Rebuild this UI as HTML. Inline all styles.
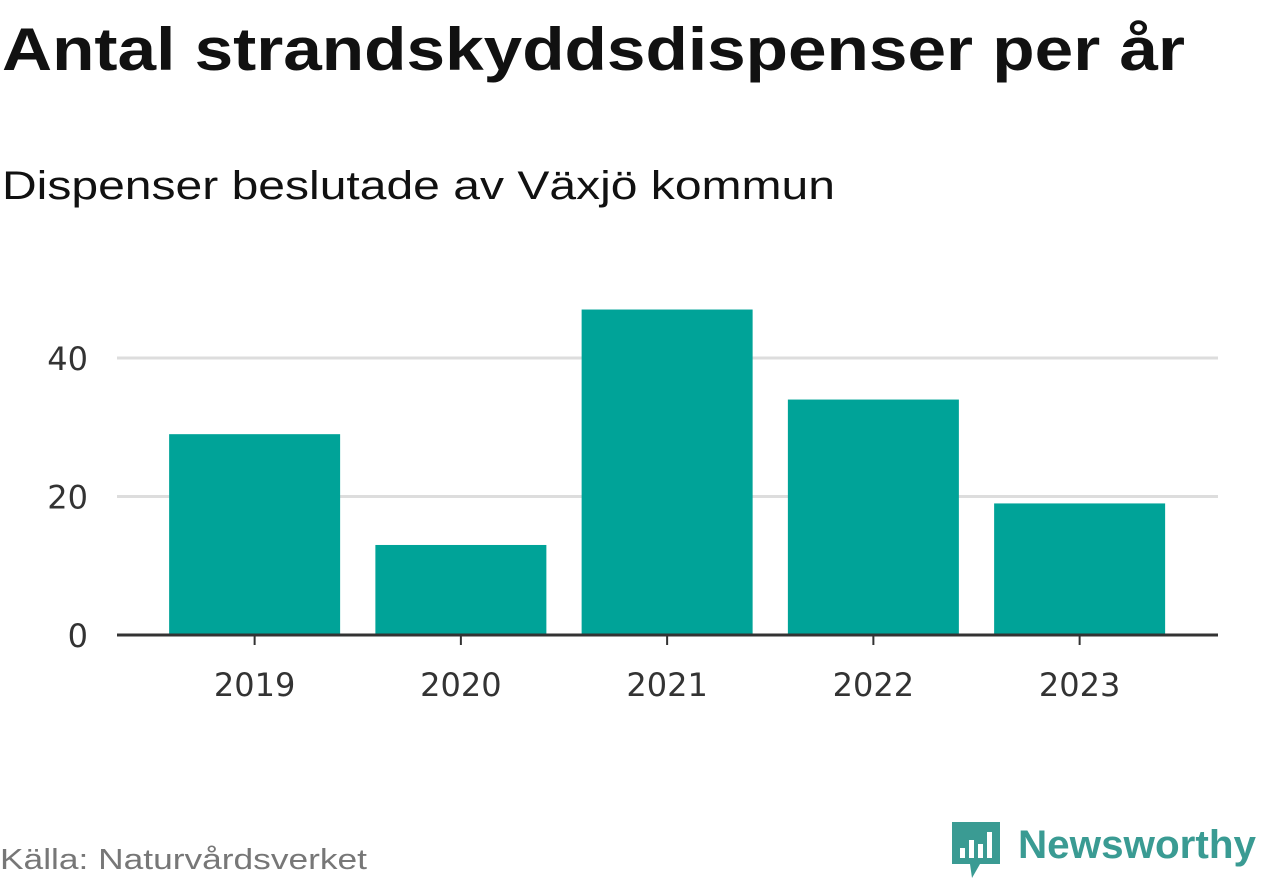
<!DOCTYPE html>
<html><head><meta charset="utf-8">
<style>
body{margin:0;background:#fff;width:1262px;height:879px;overflow:hidden;font-family:"Liberation Sans",sans-serif;}
</style></head>
<body>
<svg id="chart" width="1262" height="879" xmlns="http://www.w3.org/2000/svg">
<text x="2" y="70" font-size="60" font-weight="bold" fill="#111" textLength="1183" lengthAdjust="spacingAndGlyphs">Antal strandskyddsdispenser per år</text>
<text x="2" y="199" font-size="40" fill="#111" textLength="833" lengthAdjust="spacingAndGlyphs">Dispenser beslutade av Växjö kommun</text>
<g id="grid"></g>
<g id="bars"></g>
<g id="xaxis"></g>
<text x="0" y="869" font-size="29" fill="#777" textLength="367" lengthAdjust="spacingAndGlyphs">Källa: Naturvårdsverket</text>
<g>
<path d="M952 822 h48 v42 h-20 l-8 14 l-2 -14 h-18 z" fill="#3a9b93"/>
<rect x="960" y="848" width="5" height="10" fill="#fff"/>
<rect x="969" y="840" width="5" height="18" fill="#fff"/>
<rect x="978" y="844" width="5" height="14" fill="#fff"/>
<rect x="987" y="832" width="5" height="26" fill="#fff"/>
<text x="1018" y="858" font-size="40" font-weight="bold" fill="#3a9b93" textLength="238" lengthAdjust="spacingAndGlyphs">Newsworthy</text>
</g>
</svg>
<script>
const categories=["2019","2020","2021","2022","2023"];
const values=[29,13,47,34,19];
const yTicks=[0,20,40];
const NS="http://www.w3.org/2000/svg";
const y0=635, pxPerUnit=6.925;
const y=v=>y0-v*pxPerUnit;
const x0=151.5, step=206.25, barW=171;
const xc=i=>x0+step*(i+0.5);
const grid=document.getElementById('grid'), bars=document.getElementById('bars'), xa=document.getElementById('xaxis');
function mk(tag,attrs,parent){const e=document.createElementNS(NS,tag);for(const k in attrs)e.setAttribute(k,attrs[k]);parent.appendChild(e);return e;}
yTicks.forEach(t=>{
  if(t>0){const l=mk('line',{x1:117,x2:1218,y1:y(t),y2:y(t),stroke:'#ddd','stroke-width':3},grid);
  
  }
  const tx=mk('text',{x:88,y:y(t)+12,'font-size':32,'font-family':'DejaVu Sans, sans-serif',fill:'#333','text-anchor':'end'},grid);
  tx.textContent=t;
  
  
});
values.forEach((v,i)=>{
  const r=mk('rect',{x:xc(i)-barW/2,y:y(v),width:barW,height:y0-y(v),fill:'#00a398'},bars);
  
  
  mk('line',{x1:xc(i),x2:xc(i),y1:y0,y2:y0+10,stroke:'#333','stroke-width':2},xa);
  const tx=mk('text',{x:xc(i),y:y0+61,'font-size':32,'font-family':'DejaVu Sans, sans-serif',fill:'#333','text-anchor':'middle'},xa);
  tx.textContent=categories[i];
  
  
});
const ax=mk('line',{x1:117,x2:1218,y1:y0,y2:y0,stroke:'#333','stroke-width':3},xa);


</script>
</body></html>
